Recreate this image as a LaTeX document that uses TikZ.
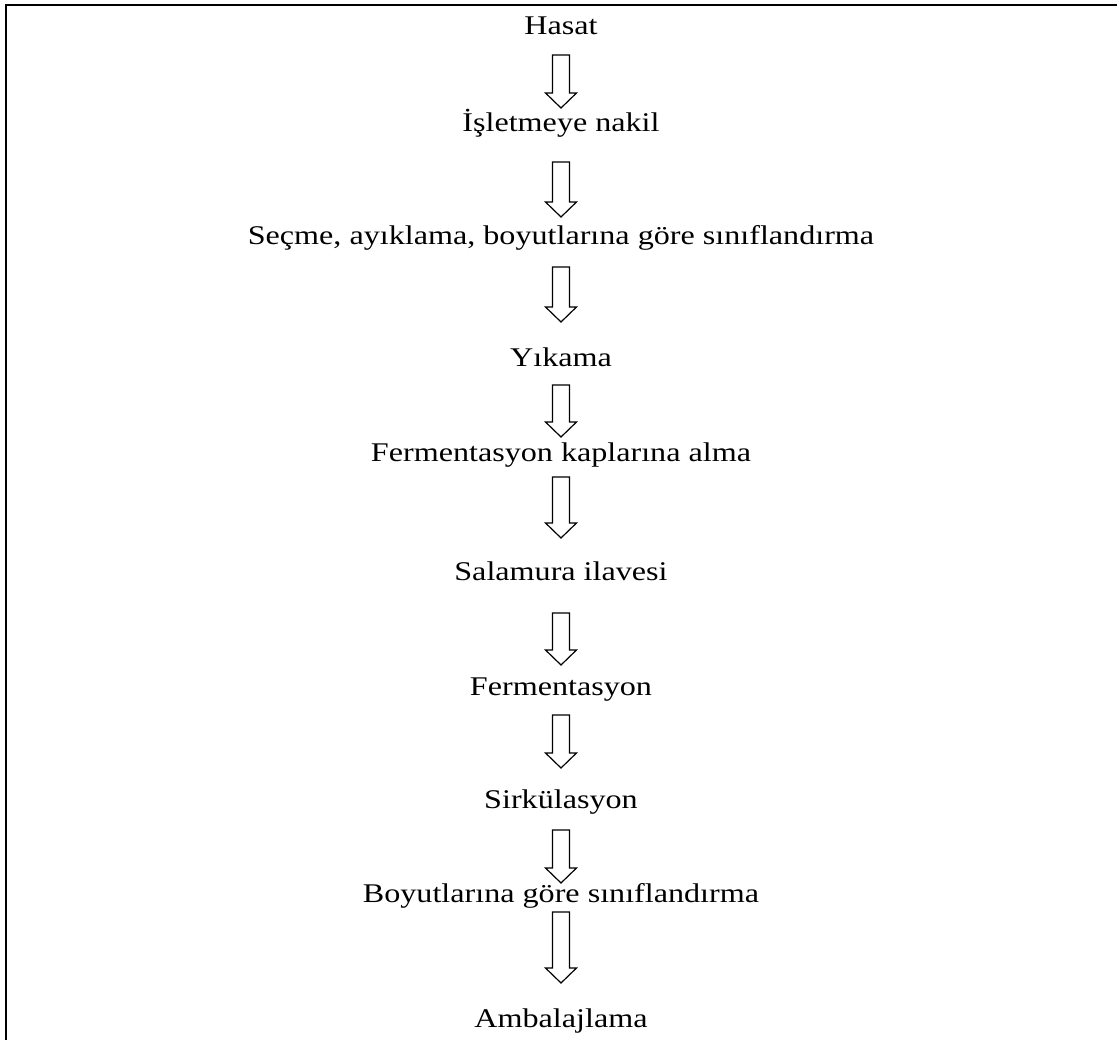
\documentclass[tikz,border=0pt]{standalone}
\usepackage{fontspec}
\setmainfont{Liberation Serif}[Ligatures=NoCommon, FakeStretch=1.19]
\usepackage{tikz}
\usetikzlibrary{calc}

\begin{document}
\begin{tikzpicture}[
  x=1pt, y=1pt,
  stage/.style={anchor=base, inner sep=0pt, font=\fontsize{27}{32}\selectfont},
  blk/.style={draw, line width=1.2pt, fill=white, line join=miter}
]
\useasboundingbox (0,0) rectangle (1117,-1040);
% frame, open at right and bottom
\draw[line width=2pt] (6,-1040) -- (6,-5) -- (1117,-5);

% process steps
\node[stage] (hasat)    at (561,-35)   {Hasat};
\node[stage] (nakil)    at (561,-132)  {İşletmeye nakil};
\node[stage] (secme)    at (561,-245)  {Seçme, ayıklama, boyutlarına göre sınıflandırma};
\node[stage] (yikama)   at (561,-367)  {Yıkama};
\node[stage] (kap)      at (561,-462)  {Fermentasyon kaplarına alma};
\node[stage] (salamura) at (561,-580)  {Salamura ilavesi};
\node[stage] (ferment)  at (561,-695)  {Fermentasyon};
\node[stage] (sirk)     at (561,-808)  {Sirkülasyon};
\node[stage] (boyut)    at (561,-902)  {Boyutlarına göre sınıflandırma};
\node[stage] (ambalaj)  at (561,-1027) {Ambalajlama};

% hollow block arrows between steps
\foreach \a/\b/\s/\e in {hasat/nakil/20/24, nakil/secme/30/28, secme/yikama/22/45,
    yikama/kap/18/25, kap/salamura/15/42, salamura/ferment/33/30,
    ferment/sirk/20/40, sirk/boyut/22/19, boyut/ambalaj/10/44}
  \draw[blk] let \p1=([yshift=-\s pt]\a.base), \p2=([yshift=\e pt]\b.base) in
    (\x1-8.5pt,\y1) -- (\x1+8.5pt,\y1) -- (\x1+8.5pt,\y2+15pt) -- (\x1+15.5pt,\y2+15pt)
    -- (\x1,\y2) -- (\x1-15.5pt,\y2+15pt) -- (\x1-8.5pt,\y2+15pt) -- cycle;
\end{tikzpicture}
\end{document}
